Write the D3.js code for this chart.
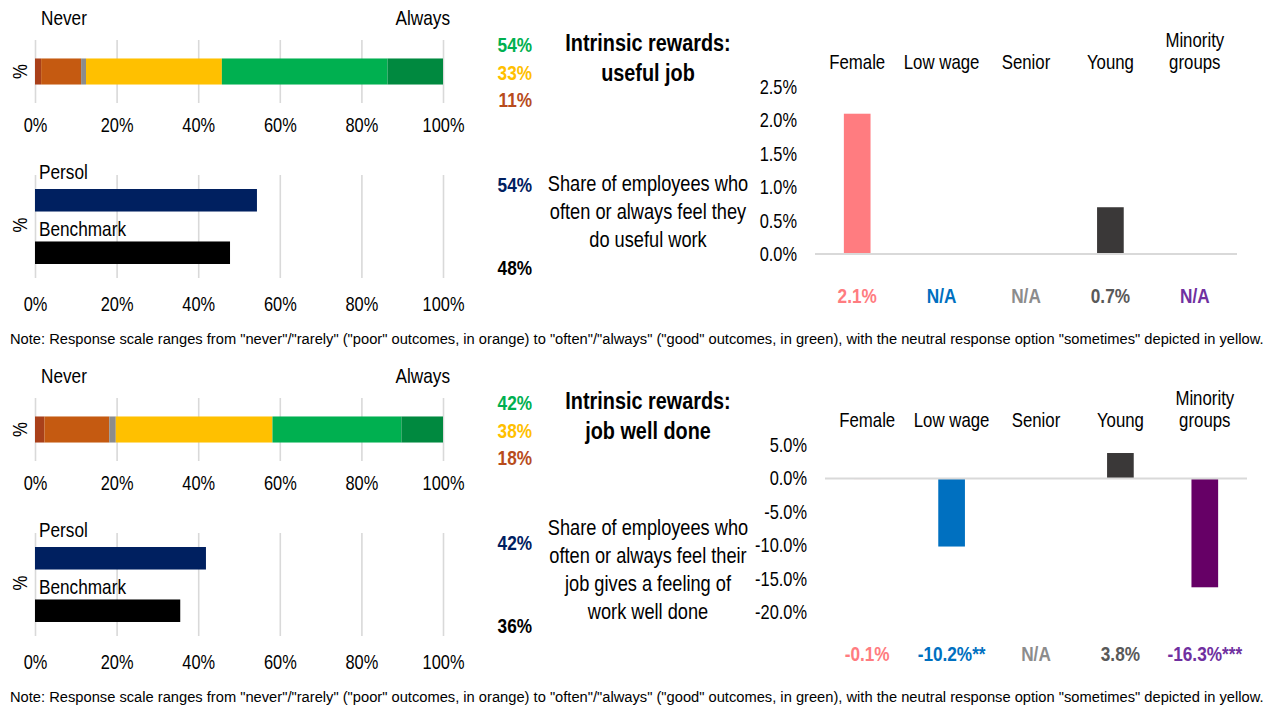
<!DOCTYPE html>
<html>
<head>
<meta charset="utf-8">
<script src="https://cdn.jsdelivr.net/npm/d3@7"></script>
<style>
  html, body { margin: 0; padding: 0; background: #fff; }
  svg { display: block; }
</style>
</head>
<body>
<svg id="chart" width="1270" height="707"></svg>
<script>
// ---- Data -----------------------------------------------------------------
// Response scale, stacked from poor to good outcomes
const responseKeys = ["Never", "Rarely", "No answer", "Sometimes", "Often", "Always"];
const responseColors = ["#A9401A", "#C55A11", "#8C8C8C", "#FFC000", "#00B050", "#00893F"];

const usefulJobShares = [1.5, 9.8, 1.2, 33.3, 40.6, 13.6];
const wellDoneShares  = [2.3, 15.9, 1.6, 38.4, 31.6, 10.2];

const compareNames  = ["Persol", "Benchmark"];
const compareColors = ["#002060", "#000000"];
const usefulJobCompare = [54.4, 47.8];
const wellDoneCompare  = [41.9, 35.6];

const groupNames = [["Female"], ["Low wage"], ["Senior"], ["Young"], ["Minority", "groups"]];
const groupBarColors   = ["#FF7C80", "#0070C0", "#A6A6A6", "#3A3838", "#660066"];
const groupLabelColors = ["#FF7C80", "#0070C0", "#8C8C8C", "#595959", "#7030A0"];

const usefulJobGaps  = [2.1, null, null, 0.7, null];
const usefulJobStars = ["", "", "", "", ""];
const wellDoneGaps   = [-0.1, -10.2, null, 3.8, -16.3];
const wellDoneStars  = ["", "**", "", "", "***"];

const shareTicks        = [0, 20, 40, 60, 80, 100];
const usefulJobGapTicks = [0, 0.5, 1, 1.5, 2, 2.5];
const wellDoneGapTicks  = [-20, -15, -10, -5, 0, 5];

const panelTitles = [["Intrinsic rewards:", "useful job"], ["Intrinsic rewards:", "job well done"]];
const panelDescriptions = [
  ["Share of employees who", "often or always feel they", "do useful work"],
  ["Share of employees who", "often or always feel their", "job gives a feeling of", "work well done"]
];
const summaryColors = ["#00B050", "#FFC000", "#B84C1C"];
const noteText = 'Note: Response scale ranges from "never"/"rarely" ("poor" outcomes, in orange) to "often"/"always" ("good" outcomes, in green), with the neutral response option "sometimes" depicted in yellow.';

// ---- Fonts ----------------------------------------------------------------
function hasFont(name) {
  const ctx = document.createElement("canvas").getContext("2d");
  const probe = "mmmmwwwwiiiill1234567890%";
  ctx.font = "40px monospace";
  const a = ctx.measureText(probe).width;
  ctx.font = `40px '${name}', monospace`;
  const b = ctx.measureText(probe).width;
  return Math.abs(a - b) > 0.5;
}
const narrow = hasFont("Liberation Sans Narrow");
const chartFont = narrow ? "'Liberation Sans Narrow', 'Arial Narrow', sans-serif" : "'Liberation Sans', Arial, sans-serif";
const sx = narrow ? 1 : 0.82;   // condense the regular face when no narrow face exists
const TXT = 20.5;               // body text size

const svg = d3.select("#chart")
  .attr("font-family", chartFont);

function label(parent, x, y, str, o = {}) {
  const t = parent.append("text")
    .attr("transform", `translate(${x},${y})${o.rotate ? ` rotate(${o.rotate})` : ""} scale(${o.noScale ? 1 : sx},1)`)
    .attr("font-size", o.size || TXT)
    .attr("font-weight", o.weight || "normal")
    .attr("fill", o.fill || "#000")
    .attr("text-anchor", o.anchor || "start")
    .text(str);
  if (o.dy) t.attr("dy", o.dy);
  if (o.family) t.attr("font-family", o.family);
  return t;
}

function styleGridAxis(sel) {
  sel.select(".domain").remove();
  sel.selectAll(".tick line").attr("stroke", "#D9D9D9").attr("stroke-width", 1.6);
  sel.selectAll(".tick text")
    .attr("font-size", 20).attr("fill", "#000")
    .attr("font-family", chartFont)
    .attr("transform", `scale(${sx},1)`);
}

const pct = v => `${Math.round(v)}%`;

// ---- One panel: stacked scale bar, comparison bars, text, group gaps -------
function drawPanel(p) {
  const g = svg.append("g").attr("transform", `translate(0,${p.dy})`);

  // Stacked response distribution
  const x = d3.scaleLinear([0, 100], [35, 443]);
  g.append("g").attr("transform", "translate(0,103)")
    .call(d3.axisBottom(x).tickValues(shareTicks).tickFormat(d => d + "%").tickSize(-63).tickPadding(15))
    .call(styleGridAxis);

  const yS = d3.scaleBand(["%"], [40, 103]).paddingInner(0.415).paddingOuter(0.415);
  const ends = d3.cumsum(p.shares);
  g.selectAll("rect.seg").data(p.shares).join("rect")
    .attr("class", "seg")
    .attr("x", (d, i) => x(ends[i] - d))
    .attr("width", d => x(d) - x(0))
    .attr("y", yS("%"))
    .attr("height", yS.bandwidth())
    .attr("fill", (d, i) => responseColors[i]);

  label(g, 20, yS("%") + yS.bandwidth() / 2, "%", { rotate: -90, anchor: "middle", dy: "0.35em" });
  label(g, 41, 25, "Never", { size: 21 });
  label(g, 450, 25, "Always", { anchor: "end", size: 21 });

  // Persol vs benchmark
  g.append("g").attr("transform", "translate(0,278)")
    .call(d3.axisBottom(x).tickValues(shareTicks).tickFormat(d => d + "%").tickSize(-103).tickPadding(19))
    .call(styleGridAxis);

  const yC = d3.scaleBand(compareNames, [175, 278]).paddingInner(0.571).paddingOuter(0.267);
  g.selectAll("rect.cmp").data(p.compare).join("rect")
    .attr("class", "cmp")
    .attr("x", x(0))
    .attr("width", d => x(d) - x(0))
    .attr("y", (d, i) => yC(compareNames[i]))
    .attr("height", yC.bandwidth())
    .attr("fill", (d, i) => compareColors[i]);

  const nameOffsets = [10, 5];
  compareNames.forEach((n, i) => label(g, 39, yC(n) - nameOffsets[i], n, { size: 21 }));
  label(g, 20, 225, "%", { rotate: -90, anchor: "middle", dy: "0.35em" });

  // Summary percentages
  const good = p.shares[4] + p.shares[5];
  const neutral = p.shares[3];
  const poor = p.shares[0] + p.shares[1];
  [good, neutral, poor].forEach((v, i) =>
    label(g, 532, 51.7 + i * 27.8, pct(v), { anchor: "end", weight: "bold", size: 21, fill: summaryColors[i] }));
  label(g, 532, 191.7, pct(p.compare[0]), { anchor: "end", weight: "bold", size: 21, fill: compareColors[0] });
  label(g, 532, 275, pct(p.compare[1]), { anchor: "end", weight: "bold", size: 21, fill: compareColors[1] });

  // Title and description
  p.title.forEach((t, i) => label(g, 648, 51 + i * 29.5, t, { anchor: "middle", weight: "bold", size: 24.2 }));
  const lh = 27.8;
  const y0 = 219 - (p.desc.length - 1) * lh / 2;
  p.desc.forEach((t, i) => label(g, 648, y0 + i * lh, t, { anchor: "middle", size: 22.2 }));

  // Gaps by group
  const keys = groupNames.map(d => d.join(" "));
  const xG = d3.scaleBand(keys, p.gapRange).paddingInner(0.684).paddingOuter(0.342);
  const yG = d3.scaleLinear(d3.extent(p.gapTicks), [254, 87]);

  const bars = p.gaps.map((v, i) => ({ v, i })).filter(d => d.v !== null);
  g.selectAll("rect.gap").data(bars).join("rect")
    .attr("class", "gap")
    .attr("x", d => xG(keys[d.i]))
    .attr("width", xG.bandwidth())
    .attr("y", d => Math.min(yG(d.v), yG(0)))
    .attr("height", d => Math.abs(yG(d.v) - yG(0)))
    .attr("fill", d => groupBarColors[d.i]);

  // zero baseline drawn over the bars
  g.append("line")
    .attr("x1", p.gapRange[0]).attr("x2", p.gapRange[1])
    .attr("y1", yG(0)).attr("y2", yG(0))
    .attr("stroke", "#D9D9D9").attr("stroke-width", 2);

  const ax = g.append("g").attr("transform", `translate(${p.gapRange[0]},0)`)
    .call(d3.axisLeft(yG).tickValues(p.gapTicks).tickSize(0).tickPadding(18).tickFormat(d => d.toFixed(1) + "%"));
  ax.select(".domain").remove();
  ax.selectAll(".tick text").attr("font-size", 20).attr("fill", "#000")
    .attr("font-family", chartFont).attr("transform", `scale(${sx},1)`)
    .attr("x", -18 / sx);

  groupNames.forEach((lines, i) => {
    const cx = xG(keys[i]) + xG.bandwidth() / 2;
    lines.forEach((t, j) => label(g, cx, 69 - (lines.length - 1 - j) * 22.5, t, { anchor: "middle" }));
    const v = p.gaps[i];
    label(g, cx, 303.3, v === null ? "N/A" : v.toFixed(1) + "%" + p.stars[i],
      { anchor: "middle", weight: "bold", size: 21, fill: groupLabelColors[i] });
  });

  // Footnote
  label(g, 10, 344, noteText, { size: 14.7, noScale: true, family: "'Liberation Sans', Arial, sans-serif" });
}

drawPanel({
  dy: 0, shares: usefulJobShares, compare: usefulJobCompare,
  gaps: usefulJobGaps, stars: usefulJobStars, gapTicks: usefulJobGapTicks, gapRange: [815, 1237],
  title: panelTitles[0], desc: panelDescriptions[0]
});
drawPanel({
  dy: 358, shares: wellDoneShares, compare: wellDoneCompare,
  gaps: wellDoneGaps, stars: wellDoneStars, gapTicks: wellDoneGapTicks, gapRange: [825, 1247],
  title: panelTitles[1], desc: panelDescriptions[1]
});
</script>
</body>
</html>
